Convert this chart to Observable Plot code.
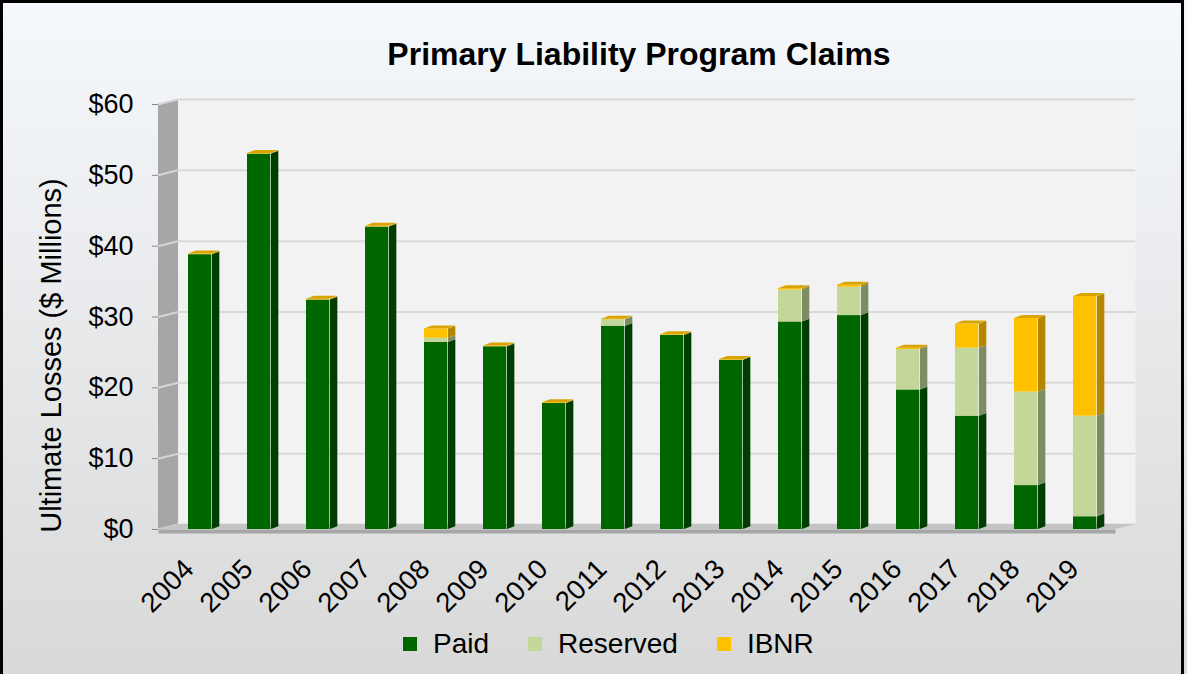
<!DOCTYPE html>
<html><head><meta charset="utf-8">
<script src="https://cdn.jsdelivr.net/npm/d3@7"></script>
<script src="https://cdn.jsdelivr.net/npm/@observablehq/plot@0.6"></script>
<style>
html,body{margin:0;padding:0;background:#fff;}
#wrap{position:relative;width:1187px;height:674px;overflow:hidden;background:linear-gradient(#f5f8fc,#d9d9d9);font-family:"Liberation Sans",Arial,sans-serif;color:#000;}
#border{position:absolute;left:0;top:0;width:1178px;height:700px;border:3px solid #000;pointer-events:none;}
#title{position:absolute;left:639px;top:38px;transform:translateX(-50%);font-size:32px;line-height:32px;font-weight:bold;white-space:nowrap;}
#chart{position:absolute;left:0;top:78px;}
#legend{position:absolute;left:403px;top:630px;display:flex;align-items:center;font-size:28px;line-height:28px;white-space:nowrap;}
#legend .item{display:flex;align-items:center;margin-right:39px;}
#legend .sw{width:14px;height:14px;margin-right:16px;display:inline-block;}
</style>
</head><body>
<div id="wrap">
  <div id="title"></div>
  <div id="chart"></div>
  <div id="legend"></div>
  <div id="border"></div>
</div>
<script>
const title = "Primary Liability Program Claims";
const yLabel = "Ultimate Losses ($ Millions)";
const years = ["2004","2005","2006","2007","2008","2009","2010","2011","2012","2013","2014","2015","2016","2017","2018","2019"];
const paid     = [38.8, 53.0, 32.4, 42.7, 26.4, 25.8, 17.8, 28.7, 27.4, 23.9, 29.3, 30.2, 19.7, 16.0, 6.2, 1.8];
const reserved = [0, 0, 0, 0, 0.6, 0, 0, 0.9, 0, 0, 4.5, 4.0, 5.7, 9.6, 13.2, 14.2];
const ibnr     = [0.1, 0.1, 0.1, 0.1, 1.3, 0.1, 0.1, 0.1, 0.1, 0.1, 0.2, 0.3, 0.2, 3.4, 10.4, 16.9];
const seriesNames = ["Paid", "Reserved", "IBNR"];
const frontColors = ["#006600", "#c4d79b", "#ffc000"];
const sideColors  = ["#003d00", "#7e8c64", "#b38800"];
const topColor = "#d9a400";
const yTicks = [0, 10, 20, 30, 40, 50, 60];

const seriesValues = [paid, reserved, ibnr];
const rows = [];
years.forEach((yr, i) => {
  let base = 0;
  seriesValues.forEach((vals, s) => {
    rows.push({year: yr, s, y1: base, y2: base + vals[i]});
    base += vals[i];
  });
});
const totals = years.map((yr, i) => ({year: yr, total: paid[i] + reserved[i] + ibnr[i]}));

const X0 = 178, STEP = 59.67, FACE_L = 5, FACE_W = 24, DEPTH = 8;
const FACE_R = STEP - FACE_L - FACE_W;

document.getElementById("title").textContent = title;

const chart = Plot.plot({
  width: 1187, height: 552,
  marginLeft: 158, marginRight: 52, marginTop: 26, marginBottom: 101,
  style: {fontFamily: '"Liberation Sans", Arial, sans-serif', fontSize: "27px", color: "#000", background: "transparent", overflow: "visible"},
  x: {type: "band", domain: years, range: [X0, X0 + STEP * years.length], padding: 0, label: null},
  y: {domain: [0, 60], label: null},
  color: {type: "identity"},
  marks: [
    Plot.frame({fill: "#f2f2f2", stroke: "none", insetLeft: 20, dy: -5}),
    Plot.ruleY(yTicks, {stroke: "#d9d9d9", strokeWidth: 2, insetLeft: 20, dy: -5}),
    Plot.frame({fill: "#a6a6a6", stroke: "none", insetRight: 957, ariaDescription: "wall-left"}),
    Plot.ruleY(yTicks, {stroke: "#d4d4d4", strokeWidth: 2, insetRight: 957, ariaDescription: "grid-left"}),
    Plot.frame({fill: "#c4c4c4", stroke: "none", insetTop: 420, insetRight: 20, ariaDescription: "floor-top"}),
    Plot.frame({fill: "#a6a6a6", stroke: "none", insetTop: 425, insetBottom: -4, insetRight: 20}),
    Plot.barY(rows, {x: "year", y1: "y1", y2: "y2", fill: d => sideColors[d.s], insetLeft: FACE_L + FACE_W, insetRight: FACE_R - DEPTH, ariaDescription: "side"}),
    Plot.barY(rows, {x: "year", y1: "y1", y2: "y2", fill: d => frontColors[d.s], insetLeft: FACE_L, insetRight: FACE_R}),
    Plot.barY(totals, {x: "year", y1: "total", y2: "total", fill: topColor, insetLeft: FACE_L, insetRight: FACE_R, insetTop: -3, ariaDescription: "top"}),
    Plot.axisY({ticks: yTicks, tickFormat: d => `$${d}`, tickSize: 6, tickPadding: 19, stroke: "#888", fill: "#000", fontSize: 27}),
    Plot.axisX({tickRotate: -45, tickSize: 0, tickPadding: 35, dx: -24, fontSize: 27.5, fill: "#000"}),
    Plot.text([yLabel], {text: d => d, frameAnchor: "left", textAnchor: "middle", rotate: -90, dx: -107, dy: 38.5, fontSize: 29, fill: "#000"})
  ]
});
document.getElementById("chart").appendChild(chart);

function targets(desc) {
  const out = [];
  chart.querySelectorAll(`[aria-description="${desc}"]`).forEach(el => {
    if (el.tagName.toLowerCase() === "g") el.querySelectorAll("rect,line").forEach(c => out.push(c));
    else out.push(el);
  });
  return out;
}
const deg = t => Math.atan(t) * 180 / Math.PI;
targets("side").forEach(r => {
  const x = +r.getAttribute("x");
  r.setAttribute("transform", `translate(${x},0) skewY(${deg(-3 / DEPTH)}) translate(${-x},0)`);
});
targets("top").forEach(r => {
  const yb = +r.getAttribute("y") + +r.getAttribute("height");
  r.setAttribute("transform", `translate(0,${yb}) skewX(${deg(-DEPTH / 3)}) translate(0,${-yb})`);
});
targets("wall-left").forEach(r => {
  const x = +r.getAttribute("x");
  r.setAttribute("transform", `translate(${x},0) skewY(${deg(-5 / 20)}) translate(${-x},0)`);
});
targets("grid-left").forEach(l => {
  const y1 = +l.getAttribute("y1");
  l.setAttribute("y2", y1 - 5);
});
targets("floor-top").forEach(r => {
  const yb = +r.getAttribute("y") + +r.getAttribute("height");
  r.setAttribute("transform", `translate(0,${yb}) skewX(${deg(-4)}) translate(0,${-yb})`);
});

const legend = document.getElementById("legend");
seriesNames.forEach((name, i) => {
  const item = document.createElement("div");
  item.className = "item";
  const sw = document.createElement("span");
  sw.className = "sw";
  sw.style.background = frontColors[i];
  const t = document.createElement("span");
  t.textContent = name;
  item.appendChild(sw); item.appendChild(t);
  legend.appendChild(item);
});
</script>
</body></html>
